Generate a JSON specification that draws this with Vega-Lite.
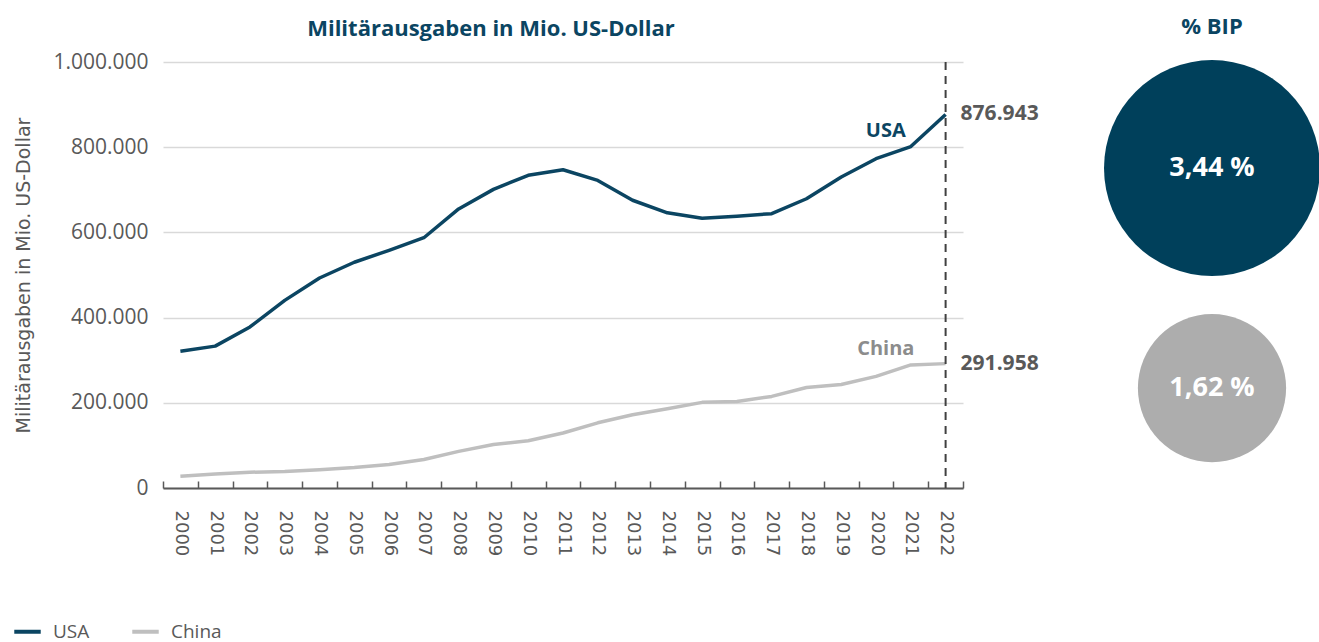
{
  "$schema": "https://vega.github.io/schema/vega-lite/v6.json",
  "padding": {"left": 12, "top": 16, "right": 10, "bottom": 8},
  "background": "white",
  "bounds": "flush",
  "spacing": 129,
  "config": {
    "view": {"stroke": null},
    "font": "Open Sans",
    "locale": {"number": {"decimal": ",", "thousands": ".", "grouping": [3], "currency": ["", " €"]}}
  },
  "hconcat": [
    {
      "width": 800,
      "height": 426,
      "title": {"text": "Militärausgaben in Mio. US-Dollar", "font": "Open Sans", "fontSize": 22, "fontWeight": "bold", "color": "#0B4562", "anchor": "middle", "dx": -72, "offset": 10},
      "data": {"values": [
        {"year": 2000, "country": "USA", "value": 321000},
        {"year": 2001, "country": "USA", "value": 333000},
        {"year": 2002, "country": "USA", "value": 378000},
        {"year": 2003, "country": "USA", "value": 440500},
        {"year": 2004, "country": "USA", "value": 493000},
        {"year": 2005, "country": "USA", "value": 530000},
        {"year": 2006, "country": "USA", "value": 558000},
        {"year": 2007, "country": "USA", "value": 587500},
        {"year": 2008, "country": "USA", "value": 655000},
        {"year": 2009, "country": "USA", "value": 701000},
        {"year": 2010, "country": "USA", "value": 734000},
        {"year": 2011, "country": "USA", "value": 747000},
        {"year": 2012, "country": "USA", "value": 722000},
        {"year": 2013, "country": "USA", "value": 675500},
        {"year": 2014, "country": "USA", "value": 646000},
        {"year": 2015, "country": "USA", "value": 633000},
        {"year": 2016, "country": "USA", "value": 638000},
        {"year": 2017, "country": "USA", "value": 644000},
        {"year": 2018, "country": "USA", "value": 679000},
        {"year": 2019, "country": "USA", "value": 730000},
        {"year": 2020, "country": "USA", "value": 773000},
        {"year": 2021, "country": "USA", "value": 801500},
        {"year": 2022, "country": "USA", "value": 876943},
        {"year": 2000, "country": "China", "value": 27700},
        {"year": 2001, "country": "China", "value": 33000},
        {"year": 2002, "country": "China", "value": 37000},
        {"year": 2003, "country": "China", "value": 38700},
        {"year": 2004, "country": "China", "value": 43000},
        {"year": 2005, "country": "China", "value": 48000},
        {"year": 2006, "country": "China", "value": 55000},
        {"year": 2007, "country": "China", "value": 67000},
        {"year": 2008, "country": "China", "value": 86000},
        {"year": 2009, "country": "China", "value": 102000},
        {"year": 2010, "country": "China", "value": 111000},
        {"year": 2011, "country": "China", "value": 129000},
        {"year": 2012, "country": "China", "value": 153000},
        {"year": 2013, "country": "China", "value": 172000},
        {"year": 2014, "country": "China", "value": 186000},
        {"year": 2015, "country": "China", "value": 201000},
        {"year": 2016, "country": "China", "value": 203000},
        {"year": 2017, "country": "China", "value": 215000},
        {"year": 2018, "country": "China", "value": 236000},
        {"year": 2019, "country": "China", "value": 243000},
        {"year": 2020, "country": "China", "value": 262000},
        {"year": 2021, "country": "China", "value": 289000},
        {"year": 2022, "country": "China", "value": 291958}
      ]},
      "encoding": {
        "x": {
          "field": "year", "type": "ordinal", "bandPosition": 0.5,
          "scale": {"type": "band", "paddingInner": 0, "paddingOuter": 0},
          "axis": {
            "title": null, "labelAngle": 90, "labelFont": "DejaVu Sans", "labelFontSize": 18,
            "labelColor": "#595959", "tickBand": "extent", "tickSize": -7, "tickColor": "#595959",
            "tickWidth": 1.5, "domainColor": "#595959", "domainWidth": 2, "labelPadding": 29, "grid": false
          }
        },
        "y": {
          "field": "value", "type": "quantitative",
          "scale": {"domain": [0, 1000000], "nice": false},
          "axis": {
            "title": "Militärausgaben in Mio. US-Dollar", "titleFont": "DejaVu Sans", "titleFontSize": 19,
            "titleFontWeight": "normal", "titleColor": "#595959", "titlePadding": 19,
            "values": [0, 200000, 400000, 600000, 800000, 1000000], "format": ",d",
            "labelFont": "Open Sans", "labelFontSize": 21, "labelColor": "#595959", "labelPadding": 15,
            "domain": false, "ticks": false, "grid": true, "gridColor": "#D9D9D9", "gridWidth": 1.5
          }
        }
      },
      "layer": [
        {
          "mark": {"type": "line", "strokeWidth": 3.5, "strokeJoin": "round"},
          "encoding": {
            "color": {
              "field": "country", "type": "nominal",
              "scale": {"domain": ["USA", "China"], "range": ["#0B4562", "#BFBFBF"]},
              "legend": {
                "title": null, "orient": "none", "legendX": -151, "legendY": 554, "direction": "horizontal",
                "symbolType": "stroke", "symbolStrokeWidth": 4, "symbolSize": 700, "labelFont": "Open Sans",
                "labelFontSize": 19, "labelColor": "#595959", "columnPadding": 34, "labelOffset": 10
              }
            }
          }
        },
        {
          "transform": [{"filter": "datum.year == 2022 && datum.country == 'USA'"}],
          "mark": {"type": "rule", "strokeDash": [8, 6], "strokeWidth": 2, "color": "#404040"},
          "encoding": {
            "y": {"datum": 1000000, "type": "quantitative"},
            "y2": {"datum": 0}
          }
        },
        {
          "transform": [{"filter": "datum.year == 2022"}],
          "mark": {"type": "text", "align": "left", "baseline": "middle", "dx": 15, "fontSize": 21, "fontWeight": "bold", "font": "Open Sans", "color": "#595959"},
          "encoding": {
            "text": {"field": "value", "type": "quantitative", "format": ",d"}
          }
        },
        {
          "transform": [{"filter": "datum.year == 2021"}],
          "mark": {"type": "text", "align": "center", "baseline": "middle", "dx": -25, "dy": -16, "fontSize": 20, "fontWeight": "bold", "font": "Open Sans"},
          "encoding": {
            "text": {"field": "country", "type": "nominal"},
            "color": {"condition": {"test": "datum.country == 'USA'", "value": "#0B4562"}, "value": "#8C8C8C"}
          }
        }
      ]
    },
    {
      "width": 240,
      "height": 426,
      "title": {"text": "% BIP", "font": "Open Sans", "fontSize": 22, "fontWeight": "bold", "color": "#0B4562", "anchor": "middle", "offset": 21},
      "data": {"values": [
        {"country": "USA", "pct": 3.44, "label": "3,44 %"},
        {"country": "China", "pct": 1.62, "label": "1,62 %"}
      ]},
      "encoding": {
        "y": {"field": "country", "type": "nominal", "scale": {"type": "point", "domain": ["USA", "China"], "padding": 0.468, "align": 0.515}, "axis": null}
      },
      "layer": [
        {
          "mark": {"type": "circle", "opacity": 1},
          "encoding": {
            "size": {"field": "pct", "type": "quantitative", "scale": {"type": "linear", "domain": [0, 3.44], "range": [0, 46656]}, "legend": null},
            "color": {"condition": {"test": "datum.country == 'USA'", "value": "#00405B"}, "value": "#ADADAD"}
          }
        },
        {
          "mark": {"type": "text", "align": "center", "baseline": "middle", "fontSize": 27, "fontWeight": "bold", "font": "Open Sans", "color": "white"},
          "encoding": {"text": {"field": "label", "type": "nominal"}}
        }
      ]
    }
  ]
}
